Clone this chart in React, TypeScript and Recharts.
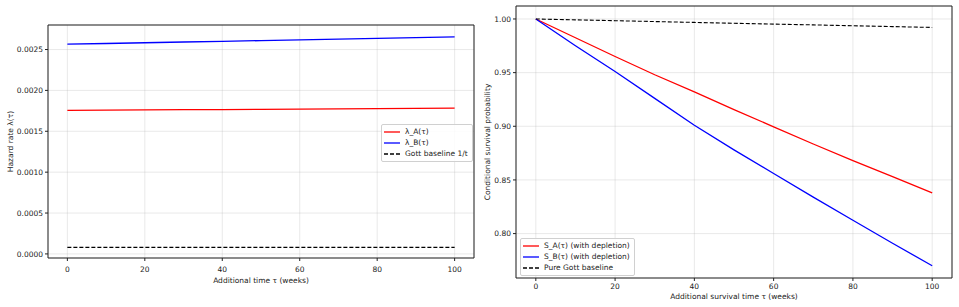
import React from "react"
import { LineChart, Line, XAxis, YAxis, CartesianGrid, Legend, ReferenceArea } from "recharts"

// weeks of additional time
const weeks = [0, 10, 20, 30, 40, 50, 60, 70, 80, 90, 100]

// hazard rates
const lambdaA = [0.001755, 0.001758, 0.001761, 0.001764, 0.001766, 0.001769, 0.001772, 0.001775, 0.001777, 0.00178, 0.001783]
const lambdaB = [0.002565, 0.002574, 0.002583, 0.002592, 0.0026, 0.002609, 0.002618, 0.002627, 0.002636, 0.002645, 0.002654]
const gottHazard = [0.00008, 0.0000799, 0.0000799, 0.0000798, 0.0000797, 0.0000797, 0.0000796, 0.0000796, 0.0000795, 0.0000795, 0.0000794]

// conditional survival
const survA = [1.0, 0.9825, 0.965, 0.948, 0.932, 0.9155, 0.8995, 0.8835, 0.868, 0.853, 0.838]
const survB = [1.0, 0.975, 0.951, 0.926, 0.901, 0.878, 0.856, 0.834, 0.8124, 0.791, 0.77]
const gottSurv = [1.0, 0.9992, 0.9984, 0.9976, 0.9968, 0.996, 0.9952, 0.9945, 0.9937, 0.9929, 0.9921]

const xTicks = [0, 20, 40, 60, 80, 100]
const hazardTicks = [0, 0.0005, 0.001, 0.0015, 0.002, 0.0025]
const survTicks = [0.8, 0.85, 0.9, 0.95, 1.0]

const xDomain: [number, number] = [-5, 105]
const hazardDomain: [number, number] = [-0.00005, 0.0028]
const survDomain: [number, number] = [0.7586, 1.0121]

const hazardData = weeks.map((w, i) => ({ tau: w, a: lambdaA[i], b: lambdaB[i], gott: gottHazard[i] }))
const survData = weeks.map((w, i) => ({ tau: w, a: survA[i], b: survB[i], gott: gottSurv[i] }))

type Series = { key: string; name: string; color: string; width: number; dash?: string }

const hazardSeries: Series[] = [
  { key: "a", name: "λ_A(τ)", color: "#ff0000", width: 1.3 },
  { key: "b", name: "λ_B(τ)", color: "#0000ff", width: 1.3 },
  { key: "gott", name: "Gott baseline 1/t", color: "#000", width: 1.1, dash: "4 2" },
]
const survSeries: Series[] = [
  { key: "a", name: "S_A(τ) (with depletion)", color: "#ff0000", width: 1.3 },
  { key: "b", name: "S_B(τ) (with depletion)", color: "#0000ff", width: 1.3 },
  { key: "gott", name: "Pure Gott baseline", color: "#000", width: 1.1, dash: "4 2" },
]

const FONT = "'DejaVu Sans', sans-serif"
const tickStyle = { fontSize: 7.5, fill: "#222", fontFamily: FONT }
const labelStyle = { fontSize: 7.5, fill: "#222", fontFamily: FONT }

function LegendBox({ items }: { items: Series[] }) {
  return (
    <div
      style={{
        background: "rgba(255,255,255,0.85)",
        border: "1px solid #d0d0d0",
        borderRadius: 2,
        padding: "1px 4px 1px 2px",
        fontFamily: FONT,
        fontSize: 7.5,
        color: "#222",
      }}
    >
      {items.map((s) => (
        <div key={s.key} style={{ display: "flex", alignItems: "center", height: 11.2, whiteSpace: "nowrap" }}>
          <svg width={16} height={6} style={{ marginRight: 5 }}>
            <line x1={0} y1={3} x2={16} y2={3} stroke={s.color} strokeWidth={1.3} strokeDasharray={s.dash} />
          </svg>
          <span>{s.name}</span>
        </div>
      ))}
    </div>
  )
}

function seriesLines(list: Series[]) {
  return list.map((s) => (
    <Line key={s.key} dataKey={s.key} name={s.name} stroke={s.color} strokeWidth={s.width}
      strokeDasharray={s.dash} dot={false} isAnimationActive={false} />
  ))
}

export default function App() {
  return (
    <div style={{ position: "absolute", left: 0, top: 0, width: 959, height: 307, background: "#fff" }}>
      <div style={{ position: "absolute", left: 0, top: 0 }}>
        <LineChart width={479} height={307} data={hazardData} margin={{ top: 25, right: 5, bottom: 19, left: 8 }}>
          <CartesianGrid stroke="#b0b0b0" strokeOpacity={0.35} strokeWidth={0.8} />
          <XAxis dataKey="tau" type="number" domain={xDomain} ticks={xTicks} allowDataOverflow height={30}
            axisLine={false} tickSize={3} tickMargin={6} tickLine={{ stroke: "#222" }} tick={tickStyle}
            label={{ value: "Additional time τ (weeks)", position: "insideBottom", offset: 5, style: labelStyle }} />
          <YAxis type="number" domain={hazardDomain} ticks={hazardTicks} allowDataOverflow width={40}
            axisLine={false} tickSize={3} tickMargin={2} tickLine={{ stroke: "#222" }} tick={tickStyle}
            tickFormatter={(v: number) => v.toFixed(4)}
            label={{ value: "Hazard rate λ(τ)", angle: -90, position: "insideLeft", offset: 2, style: { ...labelStyle, textAnchor: "middle" } }} />
          {seriesLines(hazardSeries)}
          <ReferenceArea x1={xDomain[0]} x2={xDomain[1]} y1={hazardDomain[0]} y2={hazardDomain[1]}
            fill="none" fillOpacity={0} stroke="#222" strokeWidth={1} />
          <Legend layout="vertical" align="center" verticalAlign="middle" content={<LegendBox items={hazardSeries} />}
            wrapperStyle={{ left: 381, top: 124, width: "auto", bottom: "auto" }} />
        </LineChart>
      </div>
      <div style={{ position: "absolute", left: 479, top: 0 }}>
        <LineChart width={480} height={307} data={survData} margin={{ top: 6, right: 7, bottom: 5, left: 7 }}>
          <CartesianGrid stroke="#b0b0b0" strokeOpacity={0.35} strokeWidth={0.8} />
          <XAxis dataKey="tau" type="number" domain={xDomain} ticks={xTicks} allowDataOverflow height={24}
            axisLine={false} tickSize={3} tickMargin={3} tickLine={{ stroke: "#222" }} tick={tickStyle}
            label={{ value: "Additional survival time τ (weeks)", position: "insideBottom", offset: 3, style: labelStyle }} />
          <YAxis type="number" domain={survDomain} ticks={survTicks} allowDataOverflow width={30}
            axisLine={false} tickSize={3} tickMargin={2} tickLine={{ stroke: "#222" }} tick={tickStyle}
            tickFormatter={(v: number) => v.toFixed(2)}
            label={{ value: "Conditional survival probability", angle: -90, position: "insideLeft", offset: 1, style: { ...labelStyle, textAnchor: "middle" } }} />
          {seriesLines(survSeries)}
          <ReferenceArea x1={xDomain[0]} x2={xDomain[1]} y1={survDomain[0]} y2={survDomain[1]}
            fill="none" fillOpacity={0} stroke="#222" strokeWidth={1} />
          <Legend layout="vertical" align="center" verticalAlign="middle" content={<LegendBox items={survSeries} />}
            wrapperStyle={{ left: 41, top: 238, width: "auto", bottom: "auto" }} />
        </LineChart>
      </div>
    </div>
  )
}
